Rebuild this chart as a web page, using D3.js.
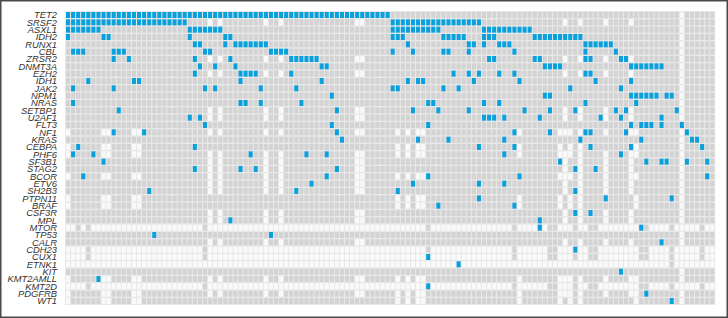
<!DOCTYPE html>
<html>
<head>
<meta charset="utf-8">
<script src="https://cdn.jsdelivr.net/npm/d3@7"></script>
<style>
  html, body { margin: 0; padding: 0; background: #fff; }
  svg { display: block; }
  .label { font-family: "Liberation Sans", Arial, sans-serif; font-style: italic; font-size: 9.4px; fill: #333; }
</style>
</head>
<body>
<svg id="chart" width="728" height="318"></svg>
<script>
// genes, top to bottom
const genes = ["TET2","SRSF2","ASXL1","IDH2","RUNX1","CBL","ZRSR2","DNMT3A","EZH2","IDH1",
  "JAK2","NPM1","NRAS","SETBP1","U2AF1","FLT3","NF1","KRAS","CEBPA","PHF6",
  "SF3B1","STAG2","BCOR","ETV6","SH2B3","PTPN11","BRAF","CSF3R","MPL","MTOR",
  "TP53","CALR","CDH23","CUX1","ETNK1","KIT","KMT2AMLL","KMT2D","PDGFRB","WT1"];

const sampleCount = 128;

// sequencing panel used for each sample (column), left to right
const panelOf =
  "BAMAEAABBA" + "AAABBAAAAA" + "AAAAAAAECA" + "CAAAAAAAAC" + "AACAAAAAAA" +
  "AAAAAAACCA" + "AAAAABABAB" + "BEAAAAAAAA" + "AAAAAAAAEB" + "AAAAAEEBCB" +
  "EDAEEACAAA" + "ACBEEAAAAN" + "AWAAAEAA";

// genes not covered by each panel
const extraGenes = ["MTOR","CDH23","CUX1","ETNK1","KMT2D"];
const panelBMissing = ["NF1","CEBPA","PHF6","BCOR","PTPN11","BRAF","KMT2AMLL","PDGFRB","WT1"];
const panelCMissing = ["SRSF2","ZRSR2","EZH2","SETBP1","U2AF1","NF1","PHF6","SF3B1","STAG2","BCOR",
  "ETV6","SH2B3","CSF3R","MPL","CALR","KMT2AMLL","PDGFRB"];
const panelMissing = {
  A: extraGenes,
  B: extraGenes.concat(panelBMissing),
  C: extraGenes.concat(panelCMissing),
  D: extraGenes.concat(panelBMissing, panelCMissing),
  E: ["ETNK1"],
  M: ["CDH23","CUX1","ETNK1","KMT2D"],
  N: [],
  W: genes
};

// mutated samples per gene (same order as genes), "a-b" = run of samples
const mutated = [
  "0-63",
  "0-23,64-81",
  "0-6,24-30,64-73,82-91",
  "0,7,8,24,31,32,64-66,74-78,82-84,92-101",
  "25,26,31,33-39,67,79,80,82,85-87,102-107",
  "1-3,9-11,27,28,40-43,64,68,74,75,79,88,102,108",
  "9,12,25,32,44-49,83,84,92,93,102,103,109,110",
  "26,29,33,50,51,94-97,111-117",
  "25,34-37,44,76,79,81,85,88,102,103",
  "4,13,14,34,50,67,69,70,80,89,104,111",
  "1,9,27,29,38,45,64,65,74,77,99,109",
  "52,94,95,111-116,118,119",
  "1,34,35,38,46,71,72,82,85,102,112",
  "10,53,68,73,79,90,95,100,108,110,120",
  "24,26,82-84,86,93,105,109,117",
  "27,52,71,111,113-115,117,121",
  "9,15,53,88,95,102,103,110,122",
  "54,69,75,86,101,113,123,124",
  "2,25,81,88,103,111,125",
  "1,5,36,47,51,86,109",
  "7,97,114,117,118,122,126",
  "25,34,37,53,100,104",
  "3,51,71,89,126",
  "48,68,81,86",
  "16,45,65,100",
  "81,106,119",
  "73,88",
  "100,103",
  "32,93",
  "93,113",
  "17,40",
  "117",
  "100",
  "71",
  "77",
  "109",
  "6",
  "71",
  "114",
  "119"
];

function parseRuns(s) {
  const out = new Set();
  s.split(",").forEach(part => {
    const [a, b] = part.split("-").map(Number);
    for (let i = a; i <= (b === undefined ? a : b); i++) out.add(i);
  });
  return out;
}

const mutSets = mutated.map(parseRuns);
const samples = d3.range(sampleCount);

const cells = [];
genes.forEach((g, gi) => {
  samples.forEach(s => {
    let status = "wt";
    if (panelMissing[panelOf[s]].includes(g)) status = "na";
    if (mutSets[gi].has(s)) status = "mut";
    cells.push({ gene: g, sample: s, status: status });
  });
});

const svg = d3.select("#chart");

const x = d3.scaleBand().domain(samples).range([66, 714.3]).paddingInner(0.2);
const y = d3.scaleBand().domain(genes).range([12, 304]).paddingInner(0.18);
const color = d3.scaleOrdinal().domain(["wt", "na", "mut"]).range(["#d3d3d3", "#f9f9f9", "#0aa0dc"]);

// grid background
svg.append("rect")
  .attr("x", 65).attr("y", 11)
  .attr("width", 715.3 - 65).attr("height", 305 - 11)
  .attr("fill", "#e8e8e8");

svg.append("g")
  .selectAll("rect")
  .data(cells)
  .join("rect")
    .attr("x", d => x(d.sample))
    .attr("y", d => y(d.gene))
    .attr("width", x.bandwidth())
    .attr("height", y.bandwidth())
    .attr("fill", d => color(d.status));

// gene labels
svg.append("g")
  .selectAll("text")
  .data(genes)
  .join("text")
    .attr("class", "label")
    .attr("x", 57)
    .attr("y", d => y(d) + y.bandwidth() / 2)
    .attr("dy", "0.36em")
    .attr("text-anchor", "end")
    .text(d => d);

// outer frame
svg.append("rect")
  .attr("x", 0.75).attr("y", 0.75)
  .attr("width", 726.5).attr("height", 316.5)
  .attr("fill", "none")
  .attr("stroke", "#4a4a4a")
  .attr("stroke-width", 1.5);
</script>
</body>
</html>
